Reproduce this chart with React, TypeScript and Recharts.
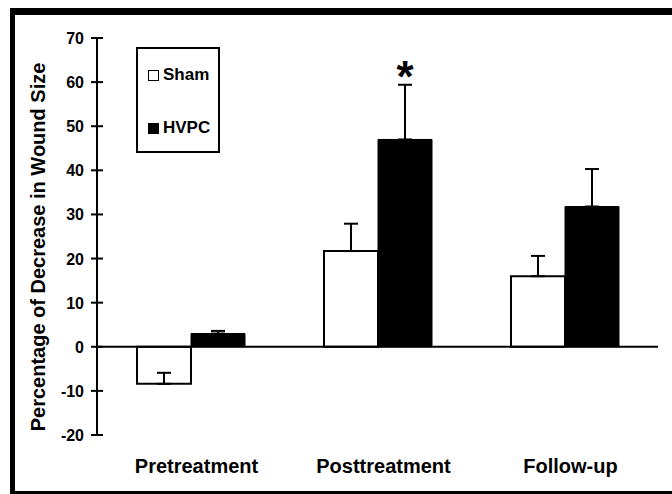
import React from "react";
import { BarChart, Bar, XAxis, YAxis, ErrorBar, ReferenceLine, Legend, LabelList } from "recharts";

const categories = ["Pretreatment", "Posttreatment", "Follow-up"];
const shamValues = [-8.4, 21.7, 16.0];
const shamErrors = [2.5, 6.2, 4.6];
const hvpcValues = [3.0, 47.0, 31.8];
const hvpcErrors = [0.6, 12.4, 8.5];
const significance = ["", "*", ""];
const yTicks = [-20, -10, 0, 10, 20, 30, 40, 50, 60, 70];

const FONT = '"Liberation Sans", Arial, Helvetica, sans-serif';

// one-sided (upward) error bars: [below, above]
const data = categories.map((name, i) => ({
  name,
  sham: shamValues[i],
  shamErr: [0, shamErrors[i]],
  hvpc: hvpcValues[i],
  hvpcErr: [0, hvpcErrors[i]],
  sig: significance[i],
}));

const YTick = (props: any) => {
  const { x, y, payload } = props;
  return (
    <g>
      <line x1={x + 7} x2={x + 19} y1={y} y2={y} stroke="#000" strokeWidth={2} />
      <text x={x} y={y} dy={6} textAnchor="end" fontFamily={FONT} fontWeight="bold" fontSize={16} fill="#000">
        {payload.value}
      </text>
    </g>
  );
};

const XTick = (props: any) => {
  const { x, y, payload } = props;
  return (
    <text x={x + 6} y={y + 38} textAnchor="middle" fontFamily={FONT} fontWeight="bold" fontSize={20} fill="#000">
      {payload.value}
    </text>
  );
};

const Star = (props: any) => {
  const { x, y, width, height, value, index } = props;
  if (!value) return null;
  const v = hvpcValues[index];
  const errPx = (hvpcErrors[index] * Math.abs(height)) / Math.abs(v);
  return (
    <text x={x + width / 2} y={y - errPx + 7} textAnchor="middle" fontFamily={FONT} fontWeight="bold" fontSize={44} fill="#000">
      {value}
    </text>
  );
};

const LegendBox = () => (
  <div
    style={{
      width: 84,
      height: 106,
      border: "2px solid #000",
      boxSizing: "border-box",
      background: "#fff",
      fontFamily: FONT,
      fontWeight: "bold",
      fontSize: 17,
      color: "#000",
      position: "relative",
    }}
  >
    <div style={{ position: "absolute", left: 10, top: 16, display: "flex", alignItems: "center" }}>
      <span style={{ width: 11, height: 11, border: "1.5px solid #000", boxSizing: "border-box", background: "#fff", marginRight: 4 }} />
      Sham
    </div>
    <div style={{ position: "absolute", left: 10, top: 69, display: "flex", alignItems: "center" }}>
      <span style={{ width: 11, height: 11, background: "#000", marginRight: 4 }} />
      HVPC
    </div>
  </div>
);

export default function App() {
  return (
    <div style={{ position: "absolute", left: 0, top: 0, width: 672, height: 494, background: "#fff", overflow: "hidden" }}>
      <div style={{ position: "absolute", left: 10, top: 8, width: 700, height: 7, background: "#000" }} />
      <div style={{ position: "absolute", left: 10, top: 8, width: 5, height: 500, background: "#000" }} />
      <div style={{ position: "absolute", left: 10, top: 491, width: 700, height: 3, background: "#000" }} />
      <div style={{ position: "absolute", left: 0, top: 0 }}>
        <BarChart
          width={672}
          height={494}
          data={data}
          margin={{ top: 38, right: 14, bottom: 29, left: 0 }}
          barGap={0}
          barSize={54}
        >
          <XAxis dataKey="name" axisLine={false} tickLine={false} tickSize={0} tickMargin={0} height={30} tick={<XTick />} interval={0} />
          <YAxis
            domain={[-20, 70]}
            ticks={yTicks}
            interval={0}
            width={97}
            axisLine={{ stroke: "#000", strokeWidth: 2 }}
            tickLine={false}
            tickSize={0}
            tickMargin={13}
            tick={<YTick />}
            label={{
              content: () => (
                <text
                  transform="translate(45,247) rotate(-90)"
                  textAnchor="middle"
                  fontFamily={FONT}
                  fontWeight="bold"
                  fontSize={20}
                  fill="#000"
                >
                  Percentage of Decrease in Wound Size
                </text>
              ),
            }}
          />
          <ReferenceLine y={0} stroke="#000" strokeWidth={2} />
          <Legend
            layout="horizontal"
            verticalAlign="middle"
            align="center"
            wrapperStyle={{ left: 136, top: 47, width: 84, height: 106 }}
            content={() => <LegendBox />}
          />
          <Bar dataKey="sham" name="Sham" fill="#fff" stroke="#000" strokeWidth={2} isAnimationActive={false}>
            <ErrorBar dataKey="shamErr" direction="y" width={7} stroke="#000" strokeWidth={2} isAnimationActive={false} />
          </Bar>
          <Bar dataKey="hvpc" name="HVPC" fill="#000" stroke="#000" strokeWidth={1} isAnimationActive={false}>
            <ErrorBar dataKey="hvpcErr" direction="y" width={7} stroke="#000" strokeWidth={2} isAnimationActive={false} />
            <LabelList dataKey="sig" content={<Star />} />
          </Bar>
        </BarChart>
      </div>
    </div>
  );
}
